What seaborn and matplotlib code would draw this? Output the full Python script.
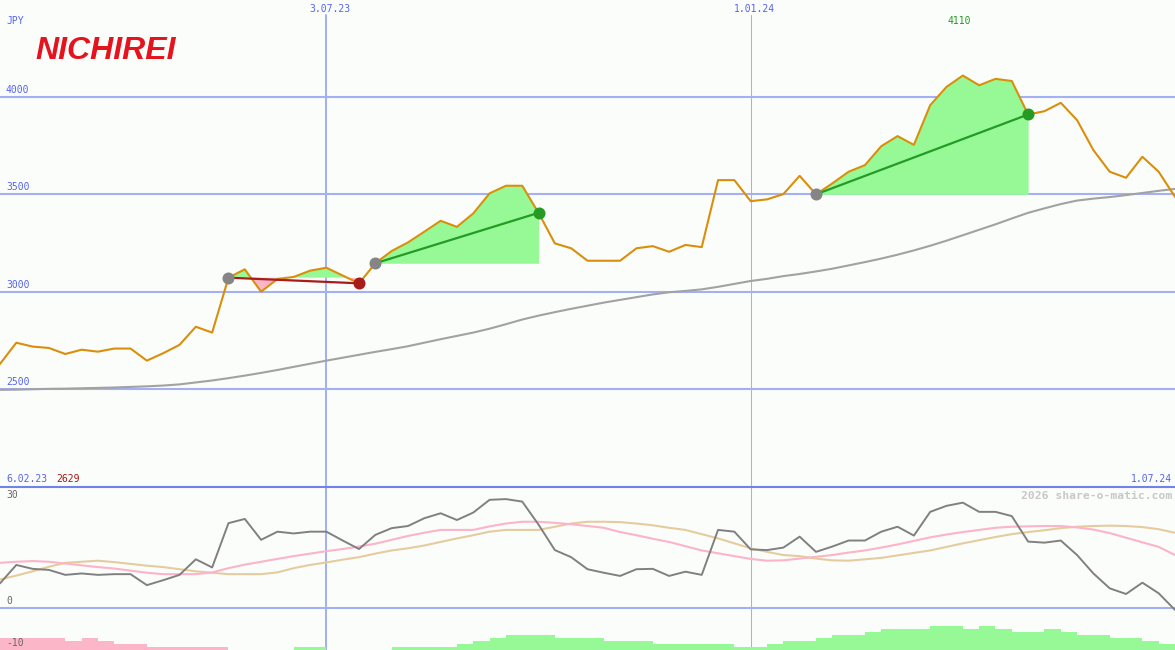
import numpy as np
import pandas as pd
import matplotlib
matplotlib.use("Agg")
import matplotlib.pyplot as plt
import matplotlib.transforms as mtransforms
import seaborn as sns

# ---- data (weekly) -------------------------------------------------------
first_week = "2023-02-13"
close = [2629, 2738, 2718, 2711, 2680, 2702, 2692, 2708, 2708, 2646,
         2684, 2727, 2820, 2790, 3072, 3115, 3000, 3065, 3076, 3108,
         3123, 3083, 3043, 3146, 3209, 3253, 3308, 3364, 3333, 3402,
         3505, 3544, 3544, 3405, 3248, 3223, 3159, 3159, 3159, 3223,
         3234, 3205, 3240, 3229, 3573, 3573, 3465, 3474, 3501, 3595,
         3500, 3556, 3616, 3650, 3747, 3799, 3754, 3958, 4052, 4110,
         4060, 4093, 4082, 3910, 3927, 3970, 3881, 3727, 3616, 3585,
         3693, 3616, 3487]
trend = [2496, 2497, 2499, 2501, 2502, 2504, 2506, 2508, 2511, 2514,
         2518, 2524, 2534, 2544, 2556, 2569, 2583, 2598, 2614, 2630,
         2646, 2661, 2676, 2691, 2705, 2720, 2738, 2756, 2773, 2790,
         2810, 2833, 2857, 2877, 2895, 2912, 2928, 2944, 2958, 2972,
         2986, 2997, 3004, 3012, 3025, 3040, 3055, 3066, 3080, 3091,
         3104, 3118, 3135, 3152, 3170, 3190, 3212, 3236, 3262, 3290,
         3318, 3346, 3376, 3405, 3428, 3450, 3468, 3478, 3486, 3496,
         3507, 3518, 3528]
osc = [6.9, 12.1, 11.0, 10.7, 9.3, 9.7, 9.3, 9.5, 9.5, 6.4,
       7.8, 9.3, 13.7, 11.4, 23.9, 25.1, 19.2, 21.5, 21.0, 21.5,
       21.5, 19.0, 16.6, 20.6, 22.5, 23.1, 25.3, 26.7, 24.8, 26.9,
       30.5, 30.7, 30.0, 23.5, 16.3, 14.3, 10.9, 9.9, 9.0, 10.9,
       11.0, 9.0, 10.2, 9.3, 22.0, 21.5, 16.5, 16.3, 17.0, 20.1,
       15.8, 17.3, 19.0, 19.0, 21.5, 22.9, 20.4, 27.1, 28.8, 29.7,
       27.1, 27.1, 25.9, 18.7, 18.4, 19.0, 14.9, 9.7, 5.5, 3.9,
       7.1, 4.1, -0.6]
osc_fast = [12.7, 13.0, 13.2, 13.0, 12.5, 12.0, 11.5, 11.1, 10.5, 9.9,
            9.5, 9.5, 9.5, 10.0, 11.2, 12.2, 13.0, 13.8, 14.6, 15.3,
            16.0, 16.6, 17.3, 18.1, 19.2, 20.3, 21.2, 22.0, 22.0, 22.0,
            23.0, 23.8, 24.3, 24.3, 24.0, 23.6, 23.1, 22.6, 21.4, 20.5,
            19.5, 18.6, 17.4, 16.2, 15.4, 14.6, 13.8, 13.3, 13.4, 13.9,
            14.4, 14.9, 15.6, 16.2, 17.0, 17.9, 18.9, 19.9, 20.7, 21.4,
            22.0, 22.6, 22.9, 23.0, 23.1, 23.1, 22.7, 22.1, 21.1, 19.8,
            18.5, 17.2, 14.9]
osc_slow = [8.0, 9.1, 10.3, 11.6, 12.7, 13.0, 13.3, 12.9, 12.4, 11.9,
            11.5, 10.9, 10.3, 9.9, 9.5, 9.5, 9.5, 10.0, 11.2, 12.1,
            12.8, 13.6, 14.3, 15.3, 16.2, 16.8, 17.6, 18.6, 19.6, 20.5,
            21.5, 22.0, 22.0, 22.0, 22.9, 23.8, 24.3, 24.3, 24.2, 23.8,
            23.3, 22.6, 22.0, 20.8, 19.6, 18.2, 16.8, 15.8, 14.9, 14.6,
            13.9, 13.4, 13.3, 13.7, 14.1, 14.8, 15.5, 16.2, 17.2, 18.2,
            19.1, 20.0, 20.8, 21.4, 21.9, 22.5, 22.9, 23.1, 23.2, 23.1,
            22.8, 22.2, 21.2]
histogram = [-4, -4, -4, -4, -3, -4, -3, -2, -2, -1,
             -1, -1, -1, -1, 0, 0, 0, 0, 1, 1,
             0, 0, 0, 0, 1, 1, 1, 1, 2, 3,
             4, 5, 5, 5, 4, 4, 4, 3, 3, 3,
             2, 2, 2, 2, 2, 1, 1, 2, 3, 3,
             4, 5, 5, 6, 7, 7, 7, 8, 8, 7,
             8, 7, 6, 6, 7, 6, 5, 5, 4, 4,
             3, 2]
price_ticks = [2500, 3000, 3500, 4000]
osc_ticks = [30, 0, -10]
marker_dates = ["2023-07-03", "2024-01-01"]
marker_labels = ["3.07.23", "1.01.24"]
marker_widths = [1.45, 0.75]
range_start_label = "6.02.23"
range_end_label = "1.07.24"
# (entry week, exit week) of the highlighted trades
trades = [(14, 22), (23, 33), (50, 63)]

# ---- styling ------------------------------------------------------------
BG = "#fbfdfb"
GRID = "#a4b0f4"
BLUE_TXT = "#5563ee"
ORANGE = "#d98f0a"
GAIN_FILL = "#96f996"
LOSS_FILL = "#fbb6c8"
GAIN_LINE = "#259b25"
LOSS_LINE = "#a81c1c"

sns.set_theme(style="white", rc={"axes.facecolor": BG, "figure.facecolor": BG})
plt.rcParams["font.family"] = ["DejaVu Sans Mono", "DejaVu Sans"]

W, H = 1175, 650
SPLIT = 487  # pixel row where the lower panel starts

dates = pd.date_range(first_week, periods=len(close), freq="7D")
df = pd.DataFrame({"date": dates, "close": close, "trend": trend,
                   "osc": osc, "fast": osc_fast, "slow": osc_slow})

fig = plt.figure(figsize=(W / 100, H / 100), dpi=100)
ax = fig.add_axes([0, (H - SPLIT) / H, 1, SPLIT / H])
ax2 = fig.add_axes([0, 0, 1, (H - SPLIT) / H], sharex=ax)
ax3 = ax2.twinx()

for a in (ax, ax2, ax3):
    for s in a.spines.values():
        s.set_visible(False)
    a.tick_params(left=False, right=False, bottom=False, top=False,
                  labelleft=False, labelright=False, labelbottom=False)
    a.grid(False)

ax.set_xlim(dates[0], dates[-1])
ax.set_ylim(1997, 4498)
ax2.set_ylim(-11.92, 34.12)
ax3.set_ylim(0, (H - SPLIT) / 3)

# ---- upper panel: price ---------------------------------------------------
for t in price_ticks:
    ax.axhline(t, color=GRID, lw=1.5, zorder=1)
for d, w in zip(marker_dates, marker_widths):
    ax.axvline(pd.Timestamp(d), ymax=1 - 15 / SPLIT, color=GRID, lw=w, zorder=1)
    ax2.axvline(pd.Timestamp(d), color=GRID, lw=w, zorder=1)

sns.lineplot(data=df, x="date", y="trend", ax=ax, color="#a2a2a2", lw=1.5,
             zorder=3, legend=False)

close_arr = np.array(close, dtype=float)
for a_i, b_i in trades:
    xs = dates[a_i:b_i + 1]
    ys = close_arr[a_i:b_i + 1]
    level = close_arr[a_i]
    ax.fill_between(xs, level, ys, where=ys >= level, interpolate=True,
                    color=GAIN_FILL, lw=0, zorder=2)
    ax.fill_between(xs, level, ys, where=ys < level, interpolate=True,
                    color=LOSS_FILL, lw=0, zorder=2)

sns.lineplot(data=df, x="date", y="close", ax=ax, color=ORANGE, lw=1.5,
             zorder=4, legend=False)

for a_i, b_i in trades:
    won = close_arr[b_i] > close_arr[a_i]
    col = GAIN_LINE if won else LOSS_LINE
    ax.plot([dates[a_i], dates[b_i]], [close_arr[a_i], close_arr[b_i]],
            color=col, lw=1.6, zorder=5)
    ax.scatter([dates[a_i]], [close_arr[a_i]], s=75, color="#858585",
               zorder=6, linewidths=0)
    ax.scatter([dates[b_i]], [close_arr[b_i]], s=75, color=col,
               zorder=6, linewidths=0)

ytrans = mtransforms.blended_transform_factory(ax.transAxes, ax.transData)
for t in price_ticks:
    ax.annotate(str(t), xy=(6 / W, t), xycoords=ytrans, xytext=(0, 1.5),
                textcoords="offset points", ha="left", va="bottom",
                fontsize=7, color=BLUE_TXT)

xtrans = mtransforms.blended_transform_factory(ax.transData, ax.transAxes)
for d, lab in zip(marker_dates, marker_labels):
    ax.text(pd.Timestamp(d) + pd.Timedelta(days=1.5), 1 - 9 / SPLIT, lab,
            transform=xtrans, ha="center", va="center", fontsize=7,
            color=BLUE_TXT)

ax.text(6 / W, 1 - 21 / SPLIT, "JPY", transform=ax.transAxes, ha="left",
        va="center", fontsize=7, color=BLUE_TXT)
ax.text(35 / W, 1 - 51 / SPLIT, "NICHIREI", transform=ax.transAxes,
        ha="left", va="center", fontsize=23, fontweight="heavy",
        fontstyle="italic", family="Liberation Sans", color="#e5131d")

hi = int(np.argmax(close_arr))
ax.text(dates[hi] - pd.Timedelta(days=1.5), 1 - 21 / SPLIT,
        f"{close_arr[hi]:.0f}", transform=xtrans, ha="center", va="center",
        fontsize=7, color="#1f9a1f")

lo = int(np.argmin(close_arr))
ax.text(6 / W, 8 / SPLIT, range_start_label, transform=ax.transAxes,
        ha="left", va="center", fontsize=7, color=BLUE_TXT)
ax.text(56 / W, 8 / SPLIT, f"{close_arr[lo]:.0f}", transform=ax.transAxes,
        ha="left", va="center", fontsize=7, color="#a51515")
ax.text(1 - 3 / W, 8 / SPLIT, range_end_label, transform=ax.transAxes,
        ha="right", va="center", fontsize=7, color=BLUE_TXT)

# ---- lower panel: oscillator ----------------------------------------------
ax2.spines["top"].set_visible(True)
ax2.spines["top"].set_color("#7282ea")
ax2.spines["top"].set_linewidth(1.5)
ax2.axhline(0, color=GRID, lw=1.5, zorder=1)

sns.lineplot(data=df, x="date", y="slow", ax=ax2, color="#e5cc9e", lw=1.5,
             zorder=3, legend=False)
sns.lineplot(data=df, x="date", y="fast", ax=ax2, color="#fbb4c8", lw=1.5,
             zorder=3, legend=False)
sns.lineplot(data=df, x="date", y="osc", ax=ax2, color="#808080", lw=1.4,
             zorder=4, legend=False)

hist_arr = np.array(histogram, dtype=float)
bar_colors = [GAIN_FILL if v > 0 else LOSS_FILL for v in hist_arr]
ax3.bar(dates[:len(hist_arr)], np.abs(hist_arr), width=7, align="edge",
        color=bar_colors, lw=0, zorder=2)

# level labels go on the top-most axes so the histogram does not hide them
otrans = mtransforms.blended_transform_factory(ax2.transAxes, ax2.transData)
lowest = min(osc_ticks)
for t in osc_ticks:
    ax3.annotate(str(t), xy=(6 / W, t), xycoords=otrans,
                 xytext=(0, 0 if t == lowest else 1.5),
                 textcoords="offset points", ha="left",
                 va="center" if t == lowest else "bottom",
                 fontsize=7, color="#666666", zorder=6, annotation_clip=False)

ax3.text(1 - 3 / W, 1 - 9 / (H - SPLIT), "2026 share-o-matic.com",
         transform=ax2.transAxes, ha="right", va="center", fontsize=8.2,
         fontweight="bold", color="#c8c8c8")

fig.savefig("out.png", dpi=100, facecolor=BG)
